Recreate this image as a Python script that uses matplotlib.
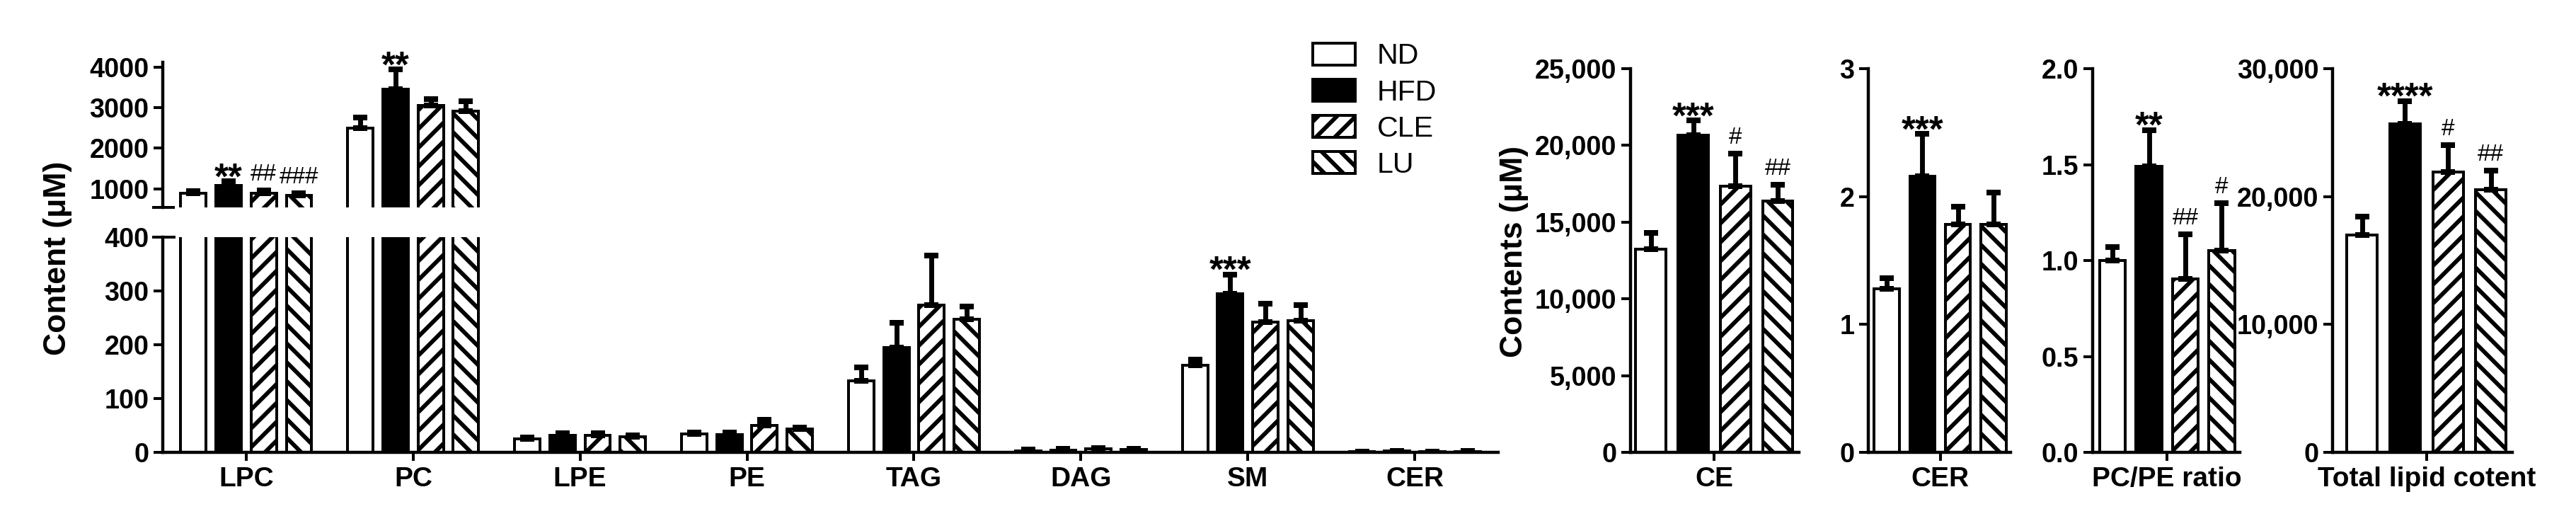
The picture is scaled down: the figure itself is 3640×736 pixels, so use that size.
import numpy as np
import matplotlib
matplotlib.use('Agg')
import matplotlib.pyplot as plt
from matplotlib.lines import Line2D

W, H, DPI = 3640, 736, 160

# ---- data ----
categories = ['LPC', 'PC', 'LPE', 'PE', 'TAG', 'DAG', 'SM', 'CER']
groups = ['ND', 'HFD', 'CLE', 'LU']

nd_mean = [880, 2500, 25, 34, 133, 3, 162, 1.28]
nd_err = [60, 250, 3, 3, 25, 2, 10, 0.08]
hfd_mean = [1080, 3450, 32, 33, 194, 4, 294, 2.16]
hfd_err = [100, 490, 4, 4, 47, 2, 36, 0.33]
cle_mean = [890, 3050, 32, 50, 273, 6, 242, 1.78]
cle_err = [60, 170, 3, 11, 92, 2, 34, 0.14]
lu_mean = [840, 2910, 29, 43, 247, 5, 245, 1.78]
lu_err = [55, 245, 3, 3, 24, 2, 28, 0.25]

hfd_marks = ['**', '**', '', '', '', '', '***', '']
cle_marks = ['##', '', '', '', '', '', '', '']
lu_marks = ['###', '', '', '', '', '', '', '']

ce_mean = [13250, 20680, 17360, 16370]
ce_err = [1050, 930, 2100, 1060]
ce_marks = ['', '***', '#', '##']

cer_mean = [1.28, 2.16, 1.78, 1.78]
cer_err = [0.08, 0.33, 0.14, 0.25]
cer_marks = ['', '***', '', '']

ratio_mean = [1.0, 1.49, 0.905, 1.05]
ratio_err = [0.07, 0.19, 0.23, 0.25]
ratio_marks = ['', '**', '##', '#']

total_mean = [16980, 25670, 21900, 20550]
total_err = [1450, 1800, 2100, 1500]
total_marks = ['', '****', '#', '##']

upper_ticks = [1000, 2000, 3000, 4000]
lower_ticks = [0, 100, 200, 300, 400]
ce_ticks = [0, 5000, 10000, 15000, 20000, 25000]
cer_ticks = [0, 1, 2, 3]
ratio_ticks = [0.0, 0.5, 1.0, 1.5, 2.0]
total_ticks = [0, 10000, 20000, 30000]

# ---- style ----
plt.rcParams['font.family'] = ['Liberation Sans', 'DejaVu Sans']
plt.rcParams['hatch.linewidth'] = 2.65
plt.rcParams['hatch.color'] = 'black'

fills = ['white', 'black', 'white', 'white']
hatches = [None, None, '//', '\\\\']
BAR_LW = 1.8
SPINE_LW = 2.0
TICK_FS = 17
XLAB_FS = 17.5
ERR_KW = dict(fmt='none', ecolor='black', elinewidth=3.1, capsize=4.3, capthick=3.6)

fig = plt.figure(figsize=(W / DPI, H / DPI), dpi=DPI)


def rect(left, right, top, bottom):
    return [left / W, 1 - bottom / H, (right - left) / W, (bottom - top) / H]


def style(ax, show_bottom=True):
    ax.spines['top'].set_visible(False)
    ax.spines['right'].set_visible(False)
    ax.spines['left'].set_linewidth(SPINE_LW)
    ax.spines['bottom'].set_linewidth(SPINE_LW)
    ax.spines['bottom'].set_visible(show_bottom)
    ax.tick_params(axis='y', length=5.8, width=1.8, pad=3, labelsize=TICK_FS)
    ax.tick_params(axis='x', length=5.4, width=1.8, pad=3.5, labelsize=XLAB_FS)
    for t in ax.get_yticklabels() + ax.get_xticklabels():
        t.set_fontweight('bold')


def mark(ax, x, top, txt):
    if not txt:
        return
    if txt.startswith('*'):
        ax.annotate(txt, (x, top), xytext=(0, -4.5), textcoords='offset points',
                    ha='center', va='baseline', fontsize=23, fontweight='bold',
                    annotation_clip=False)
    else:
        ax.annotate(txt, (x, top), xytext=(0, 6.3), textcoords='offset points',
                    ha='center', va='baseline', fontsize=15, annotation_clip=False)


# ---- main broken-axis chart ----
ax_hi = fig.add_axes(rect(230, 2117, 88.1, 293.4))
ax_lo = fig.add_axes(rect(230, 2117, 334.7, 639))

means = [nd_mean, hfd_mean, cle_mean, lu_mean]
errs = [nd_err, hfd_err, cle_err, lu_err]
marks = [['' for c in categories], hfd_marks, cle_marks, lu_marks]
step = 0.2107
width = 0.152
xpos = np.arange(len(categories))
handles = []
for g in range(4):
    x = xpos + (g - 1.5) * step
    for ax in (ax_hi, ax_lo):
        b = ax.bar(x, means[g], width, color=fills[g], edgecolor='black',
                   hatch=hatches[g], linewidth=BAR_LW)
        ax.errorbar(x, means[g], yerr=[np.zeros(len(x)), errs[g]], **ERR_KW)
        if ax is ax_lo:
            handles.append(b)
    for i in range(len(categories)):
        top = means[g][i] + errs[g][i]
        mark(ax_hi if top > 400 else ax_lo, x[i], top, marks[g][i])

ax_hi.set_xlim(-0.5, 7.5)
ax_lo.set_xlim(-0.5, 7.5)
ax_hi.set_ylim(530, 4120)
ax_lo.set_ylim(0, 400)
ax_hi.set_yticks(upper_ticks)
ax_lo.set_yticks(lower_ticks)
ax_hi.set_xticks([])
ax_lo.set_xticks(xpos)
ax_lo.set_xticklabels(categories)
style(ax_hi, show_bottom=False)
style(ax_lo)

# break marks across the spine
fig.add_artist(Line2D([217 / W, 245 / W], [1 - 293.4 / H] * 2, transform=fig.transFigure,
                      color='black', lw=1.8))
fig.add_artist(Line2D([217 / W, 246 / W], [1 - 334.7 / H] * 2, transform=fig.transFigure,
                      color='black', lw=1.8))

fig.text(81 / W, 1 - 365 / H, 'Content (\u03bcM)', rotation=90, ha='center', va='center',
         fontsize=20, fontweight='bold')

fig.legend(handles, groups, loc='upper left', bbox_to_anchor=(1855 / W, 1 - 60.5 / H),
           frameon=False, fontsize=18.5, handlelength=1.46, handleheight=0.78,
           handletextpad=0.75, labelspacing=0.32, borderpad=0, borderaxespad=0)


# ---- side panels ----
def panel(box, xlim, vals, errv, mk, ticks, ticklabels, name):
    ax = fig.add_axes(rect(*box))
    x = np.arange(4)
    for g in range(4):
        ax.bar(x[g], vals[g], 0.71, color=fills[g], edgecolor='black',
               hatch=hatches[g], linewidth=BAR_LW)
    ax.errorbar(x, vals, yerr=[np.zeros(4), errv], **ERR_KW)
    for g in range(4):
        mark(ax, x[g], vals[g] + errv[g], mk[g])
    ax.set_xlim(*xlim)
    ax.set_ylim(ticks[0], ticks[-1])
    ax.set_yticks(ticks)
    ax.set_yticklabels(ticklabels)
    ax.set_xticks([1.5])
    ax.set_xticklabels([name])
    style(ax)
    return ax


panel((2304, 2542, 97, 639), (-0.48, 3.5), ce_mean, ce_err, ce_marks,
      ce_ticks, [f'{v:,}' for v in ce_ticks], 'CE')
panel((2640, 2841, 97, 639), (-0.52, 3.48), cer_mean, cer_err, cer_marks,
      cer_ticks, [str(v) for v in cer_ticks], 'CER')
panel((2957, 3165, 97, 639), (-0.55, 3.5), ratio_mean, ratio_err, ratio_marks,
      ratio_ticks, [f'{v:.1f}' for v in ratio_ticks], 'PC/PE ratio')
panel((3296, 3550, 97, 639), (-0.69, 3.5), total_mean, total_err, total_marks,
      total_ticks, [f'{v:,}' for v in total_ticks], 'Total lipid cotent')

fig.text(2140 / W, 1 - 355 / H, 'Contents (\u03bcM)', rotation=90, ha='center', va='center',
         fontsize=20, fontweight='bold')

fig.savefig('out.png', dpi=DPI)
